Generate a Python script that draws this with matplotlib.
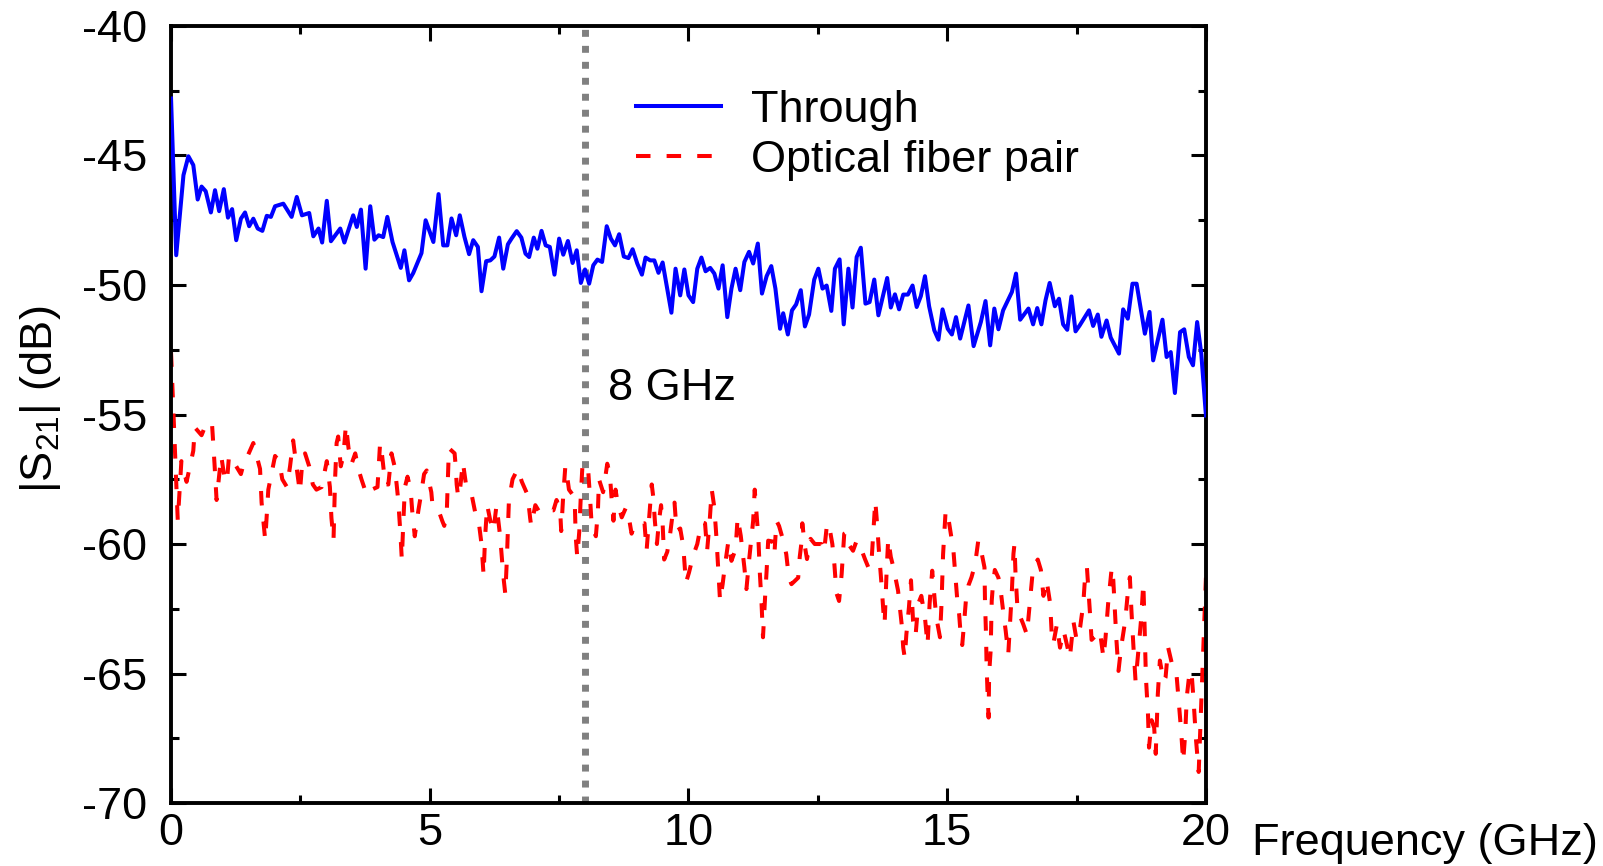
import numpy as np
import matplotlib
matplotlib.use("Agg")
import matplotlib.pyplot as plt

plt.rcParams["font.family"] = ["Liberation Sans", "DejaVu Sans"]
plt.rcParams["mathtext.fontset"] = "custom"
plt.rcParams["mathtext.rm"] = "Liberation Sans"
plt.rcParams["mathtext.default"] = "regular"
plt.rcParams["axes.unicode_minus"] = False

FS = 32.5

# Through: frequency (GHz) and |S21| (dB)
through_f = [
    0.00, 0.10, 0.24, 0.335, 0.43, 0.515, 0.59, 0.67, 0.77, 0.85, 0.93, 1.02, 1.10, 1.18,
    1.26, 1.35, 1.43, 1.51, 1.59, 1.675, 1.765, 1.85, 1.93, 2.01, 2.17, 2.33, 2.43, 2.53,
    2.67, 2.75, 2.85, 2.92, 3.01, 3.09, 3.27, 3.35, 3.52, 3.59, 3.67, 3.76, 3.85, 3.93,
    4.01, 4.10, 4.18, 4.28, 4.44, 4.51, 4.60, 4.68, 4.84, 4.92, 5.07, 5.17, 5.26, 5.34,
    5.42, 5.51, 5.58, 5.67, 5.76, 5.84, 5.93, 6.00, 6.09, 6.17, 6.25, 6.34, 6.42, 6.51,
    6.58, 6.68, 6.77, 6.85, 6.92, 7.01, 7.08, 7.16, 7.24, 7.32, 7.41, 7.50, 7.58, 7.67,
    7.76, 7.84, 7.92, 8.00, 8.08, 8.16, 8.24, 8.33, 8.42, 8.50, 8.58, 8.66, 8.75, 8.84,
    8.92, 9.01, 9.10, 9.17, 9.26, 9.34, 9.42, 9.50, 9.67, 9.75, 9.84, 9.92, 10.00, 10.09,
    10.17, 10.25, 10.33, 10.42, 10.50, 10.58, 10.66, 10.75, 10.83, 10.91, 11.00, 11.08,
    11.17, 11.25, 11.34, 11.42, 11.51, 11.60, 11.68, 11.77, 11.83, 11.92, 12.00, 12.08,
    12.17, 12.25, 12.33, 12.43, 12.51, 12.59, 12.67, 12.76, 12.83, 12.92, 13.00, 13.09,
    13.17, 13.25, 13.33, 13.42, 13.50, 13.59, 13.67, 13.75, 13.84, 13.91, 13.99, 14.07,
    14.15, 14.24, 14.33, 14.41, 14.49, 14.57, 14.65, 14.75, 14.83, 14.91, 15.01, 15.09,
    15.17, 15.25, 15.41, 15.51, 15.65, 15.74, 15.83, 15.91, 15.99, 16.08, 16.25, 16.33,
    16.41, 16.57, 16.66, 16.74, 16.82, 16.90, 16.98, 17.08, 17.16, 17.24, 17.32, 17.40,
    17.48, 17.56, 17.74, 17.82, 17.91, 17.98, 18.08, 18.16, 18.32, 18.40, 18.49, 18.58,
    18.66, 18.82, 18.91, 18.98, 19.16, 19.24, 19.32, 19.40, 19.50, 19.58, 19.67, 19.75,
    19.83, 19.91, 20.00,
]
through_db = [
    -42.8, -48.85, -45.76, -45.03, -45.37, -46.7, -46.2, -46.38, -47.2, -46.34, -47.15, -46.3, -47.4, -47.07,
    -48.27, -47.44, -47.2, -47.73, -47.44, -47.82, -47.91, -47.33, -47.37, -46.96, -46.86, -47.37, -46.6, -47.31,
    -47.22, -48.12, -47.82, -48.36, -46.75, -48.31, -47.82, -48.36, -47.31, -47.76, -47.09, -49.37, -46.96, -48.25,
    -48.08, -48.15, -47.37, -48.34, -49.34, -48.66, -49.82, -49.54, -48.77, -47.5, -48.34, -46.49, -48.47, -48.47,
    -47.43, -48.08, -47.31, -48.14, -48.81, -48.27, -48.53, -50.24, -49.08, -49.05, -48.9, -48.17, -49.37, -48.43,
    -48.21, -47.92, -48.17, -48.79, -48.92, -48.17, -48.6, -47.91, -48.47, -48.53, -49.6, -48.21, -48.83, -48.3,
    -49.15, -48.66, -49.92, -49.4, -49.95, -49.24, -49.02, -49.11, -47.73, -48.21, -48.47, -48.04, -48.9, -48.96,
    -48.62, -49.17, -49.6, -48.94, -49.05, -49.05, -49.53, -49.13, -51.07, -49.37, -50.4, -49.4, -50.4, -50.66,
    -49.37, -48.94, -49.47, -49.34, -49.56, -50.14, -49.24, -51.24, -50.14, -49.37, -50.2, -49.11,
    -48.72, -49.17, -48.4, -50.33, -49.66, -49.27, -50.14, -51.69, -51.09, -51.91, -50.98, -50.75,
    -50.2, -51.6, -51.14, -49.79, -49.37, -50.14, -50.02, -51.0, -49.37, -49.01, -51.52, -49.37,
    -50.87, -48.92, -48.56, -50.72, -50.66, -49.79, -51.17, -50.5, -49.73, -50.87, -50.36, -50.94,
    -50.37, -50.37, -50.02, -50.85, -50.43, -49.66, -50.82, -51.75, -52.11, -50.94, -51.69, -51.91,
    -51.24, -52.07, -50.79, -52.36, -51.43, -50.62, -52.33, -50.91, -51.71, -50.98, -50.27, -49.56,
    -51.34, -50.91, -51.52, -50.89, -51.52, -50.59, -49.92, -50.82, -50.53, -51.52, -51.73, -50.44,
    -51.79, -51.56, -50.98, -51.58, -51.14, -52.0, -51.37, -52.03, -52.65, -50.94, -51.3, -49.95,
    -49.95, -51.88, -51.04, -52.91, -51.34, -52.78, -52.59, -54.17, -51.82, -51.71, -52.78, -53.1,
    -51.43, -52.65, -55.04,
]

# Optical fiber pair: frequency (GHz) and |S21| (dB)
fiber_f = [
    0.00, 0.13, 0.20, 0.30, 0.43, 0.46, 0.59, 0.67, 0.79, 0.84, 0.88, 0.97, 1.03, 1.08,
    1.12, 1.20, 1.35, 1.43, 1.48, 1.59, 1.72, 1.75, 1.82, 1.88, 1.93, 2.01, 2.09, 2.15,
    2.24, 2.30, 2.36, 2.43, 2.49, 2.53, 2.59, 2.67, 2.74, 2.81, 2.91, 3.01, 3.07, 3.10,
    3.14, 3.17, 3.20, 3.23, 3.28, 3.33, 3.38, 3.43, 3.49, 3.56, 3.62, 3.68, 3.78, 3.88,
    3.99, 4.04, 4.08, 4.14, 4.20, 4.26, 4.32, 4.36, 4.39, 4.43, 4.46, 4.49, 4.52, 4.57,
    4.63, 4.66, 4.71, 4.78, 4.83, 4.89, 4.94, 5.03, 5.05, 5.17, 5.24, 5.28, 5.33, 5.35,
    5.37, 5.48, 5.50, 5.52, 5.55, 5.59, 5.64, 5.70, 5.81, 5.88, 5.95, 6.00, 6.04, 6.07,
    6.11, 6.17, 6.23, 6.29, 6.36, 6.42, 6.46, 6.49, 6.51, 6.53, 6.60, 6.70, 6.78, 6.89,
    6.94, 6.96, 7.04, 7.13, 7.26, 7.39, 7.45, 7.52, 7.54, 7.58, 7.62, 7.67, 7.69, 7.80,
    7.82, 7.85, 7.89, 7.92, 7.95, 8.00, 8.06, 8.10, 8.13, 8.21, 8.25, 8.27, 8.35, 8.43,
    8.48, 8.52, 8.55, 8.59, 8.63, 8.71, 8.79, 8.85, 8.90, 8.97, 9.15, 9.19, 9.24, 9.29,
    9.32, 9.35, 9.39, 9.43, 9.47, 9.50, 9.53, 9.59, 9.64, 9.69, 9.73, 9.77, 9.84, 9.90,
    9.95, 10.01, 10.09, 10.17, 10.25, 10.32, 10.36, 10.41, 10.45, 10.50, 10.54, 10.57,
    10.61, 10.66, 10.70, 10.77, 10.83, 10.91, 10.95, 11.01, 11.08, 11.12, 11.17, 11.25,
    11.28, 11.31, 11.35, 11.38, 11.41, 11.44, 11.48, 11.51, 11.54, 11.62, 11.66, 11.70,
    11.75, 11.85, 11.89, 11.94, 11.99, 12.12, 12.15, 12.18, 12.20, 12.25, 12.29, 12.36,
    12.44, 12.57, 12.62, 12.67, 12.71, 12.78, 12.82, 12.86, 12.91, 12.96, 13.01, 13.05,
    13.09, 13.18, 13.25, 13.34, 13.41, 13.49, 13.54, 13.57, 13.61, 13.65, 13.68, 13.73,
    13.77, 13.79, 13.83, 13.86, 13.91, 13.96, 14.05, 14.12, 14.15, 14.18, 14.21, 14.26,
    14.30, 14.34, 14.39, 14.44, 14.50, 14.57, 14.62, 14.66, 14.71, 14.76, 14.79, 14.86,
    14.89, 14.92, 14.97, 15.03, 15.09, 15.12, 15.16, 15.20, 15.23, 15.26, 15.29, 15.32,
    15.36, 15.41, 15.47, 15.54, 15.60, 15.66, 15.72, 15.73, 15.75, 15.76, 15.78, 15.80,
    15.81, 15.84, 15.86, 15.88, 15.92, 15.99, 16.04, 16.08, 16.13, 16.18, 16.25, 16.28,
    16.30, 16.32, 16.36, 16.41, 16.47, 16.54, 16.60, 16.66, 16.75, 16.81, 16.86, 16.92,
    16.99, 17.02, 17.05, 17.12, 17.18, 17.25, 17.31, 17.37, 17.44, 17.50, 17.57, 17.63,
    17.66, 17.70, 17.73, 17.76, 17.79, 17.84, 17.95, 18.02, 18.06, 18.11, 18.18, 18.21,
    18.24, 18.27, 18.31, 18.36, 18.44, 18.50, 18.53, 18.56, 18.60, 18.64, 18.70, 18.75,
    18.79, 18.81, 18.84, 18.88, 18.90, 18.95, 19.00, 19.03, 19.07, 19.11, 19.18, 19.22,
    19.27, 19.34, 19.43, 19.52, 19.56, 19.60, 19.63, 19.68, 19.72, 19.76, 19.81, 19.86,
    20.00,
]
fiber_db = [
    -52.6, -59.1, -56.8, -57.6, -56.4, -55.5, -55.8, -55.4, -55.3, -56.9, -58.3, -56.6, -57.4, -57.6,
    -56.6, -56.8, -57.3, -56.7, -56.6, -56.1, -57.1, -58.4, -59.85, -57.9, -57.4, -56.6, -56.8, -57.5,
    -57.8, -57.0, -56.0, -57.1, -58.0, -57.0, -56.5, -57.0, -57.7, -57.9, -57.8, -56.8, -57.8, -59.0,
    -59.85, -57.5, -56.1, -55.85, -57.0, -56.6, -55.4, -56.3, -56.9, -56.5, -57.1, -57.5, -58.1, -57.9,
    -57.8, -56.1, -56.6, -57.7, -57.7, -56.5, -57.0, -57.7, -58.3, -59.5, -60.6, -59.1, -57.8, -57.4,
    -57.9, -58.7, -59.7, -58.7, -58.1, -57.3, -57.16, -58.0, -58.45, -58.7, -59.1, -59.3, -58.7, -57.5,
    -56.3, -56.5, -56.97, -57.7, -58.2, -57.8, -56.84, -57.7, -58.1, -58.8, -59.2, -60.0, -61.2, -59.7,
    -58.5, -59.1, -59.5, -58.5, -59.7, -61.2, -61.93, -60.6, -59.5, -58.3, -57.5, -57.1, -57.6, -58.1,
    -59.0, -59.3, -58.5, -58.8, -58.7, -58.7, -58.3, -58.7, -59.5, -58.1, -57.0, -57.6, -57.9, -58.2,
    -59.7, -60.5, -59.5, -58.1, -57.0, -57.2, -57.1, -58.3, -59.3, -59.7, -58.7, -57.5, -58.0, -56.9,
    -57.3, -58.4, -59.1, -57.9, -58.4, -58.97, -58.6, -59.0, -59.6, -59.2, -59.2, -60.26, -59.0, -57.7,
    -58.2, -59.1, -60.0, -59.1, -58.5, -59.2, -60.6, -60.3, -59.7, -58.9, -58.4, -59.5, -59.4, -60.1,
    -61.5, -61.1, -60.45, -60.0, -59.16, -59.2, -60.26, -59.1, -57.9, -58.6, -59.75, -60.8,
    -62.2, -61.55, -60.9, -59.9, -60.65, -60.2, -58.97, -59.68, -60.9, -61.74, -60.65, -59.1,
    -57.9, -58.7, -59.75, -61.16, -62.2, -63.6, -62.06, -61.03, -59.87, -59.9, -60.4, -59.1,
    -59.3, -60.0, -60.4, -61.3, -61.55, -61.3, -60.5, -60.0, -59.2, -60.1, -60.58, -59.8,
    -60.0, -60.0, -60.3, -59.36, -59.2, -60.0, -60.8, -61.9, -62.2, -61.16, -59.6, -59.55,
    -60.0, -60.26, -59.87, -60.2, -60.58, -60.97, -60.58, -59.6, -58.33, -59.36, -60.26, -61.55,
    -62.7, -63.1, -61.0, -59.8, -60.5, -60.9, -61.8, -63.1, -64.0, -64.4, -63.5, -62.45,
    -61.4, -62.97, -63.5, -62.3, -62.0, -62.84, -63.9, -62.3, -61.03, -62.2, -62.84, -63.6,
    -62.3, -60.4, -58.7, -59.1, -59.87, -60.25, -61.28, -62.3, -62.7, -63.5, -63.9, -63.2,
    -62.2, -61.6, -61.28, -60.77, -59.87, -60.3, -60.9, -62.2, -63.5, -64.6, -65.8, -66.7,
    -65.0, -64.1, -62.2, -61.67, -61.0, -61.3, -61.9, -62.57, -63.35, -64.25, -61.8, -60.38,
    -60.0, -61.15, -62.57, -62.8, -63.1, -63.5, -62.2, -60.9, -60.6, -61.0, -62.0, -61.4,
    -62.3, -63.5, -63.86, -63.1, -64.0, -63.35, -63.86, -64.4, -63.0, -63.7, -63.2, -62.3,
    -61.4, -60.9, -61.8, -62.7, -63.7, -63.6, -63.35, -64.4, -63.6, -62.3, -60.9, -61.4,
    -62.57, -63.7, -64.9, -64.0, -62.96, -61.67, -61.28, -62.57, -64.0, -65.3, -64.0, -62.83,
    -61.5, -62.83, -65.15, -66.57, -67.86, -66.8, -67.1, -68.1, -65.8, -64.5, -65.3, -65.15,
    -64.0, -64.6, -65.0, -67.2, -68.4, -67.3, -65.9, -65.0, -64.9, -66.0, -67.6, -68.8,
    -61.3,
]

marker_f = 8.0

fig = plt.figure(figsize=(16.03, 8.66), dpi=100)
ax = fig.add_axes([0.1067, 0.0727, 0.6456, 0.8973])

ax.axvline(marker_f, color="#808080", linewidth=5, linestyle=(0, (1, 1.3)),
           dash_capstyle="butt", zorder=1)
ax.plot(through_f, through_db, color="#0000ff", linewidth=2.9, label="Through", zorder=3)
ax.plot(fiber_f, fiber_db, color="#ff0000", linewidth=2.9, linestyle=(0, (3.6, 4.0)),
        label="Optical fiber pair", zorder=2)

ax.text(8.45, -54.0, "8 GHz", fontsize=FS, ha="left", va="center")

ax.set_xlim(0, 20)
ax.set_ylim(-70, -40)
ax.set_xticks([0, 5, 10, 15, 20])
ax.set_xticks([2.5, 7.5, 12.5, 17.5], minor=True)
ax.set_yticks([-70, -65, -60, -55, -50, -45, -40])
ax.set_yticks(np.arange(-67.5, -40, 5), minor=True)
ax.tick_params(which="both", direction="in", top=True, right=True, width=2.2)
ax.tick_params(which="major", length=11, labelsize=FS)
ax.tick_params(which="minor", length=5.5)
ax.tick_params(axis="y", pad=17)
ax.tick_params(axis="x", pad=7)
for s in ax.spines.values():
    s.set_linewidth(2.8)

fig.text(41 / 1603, 1 - 399 / 866, r"|S$_{21}$| (dB)", fontsize=FS, rotation=90,
         ha="center", va="center")
fig.text(1252 / 1603, 1 - 843 / 866, "Frequency (GHz)", fontsize=FS, ha="left", va="center")

ax.legend(loc="upper left", bbox_to_anchor=(0.449, 0.918), frameon=False, fontsize=FS,
          handlelength=1.9, handletextpad=0.65, labelspacing=0.2, borderpad=0,
          borderaxespad=0)

fig.savefig("out.png", dpi=100)
